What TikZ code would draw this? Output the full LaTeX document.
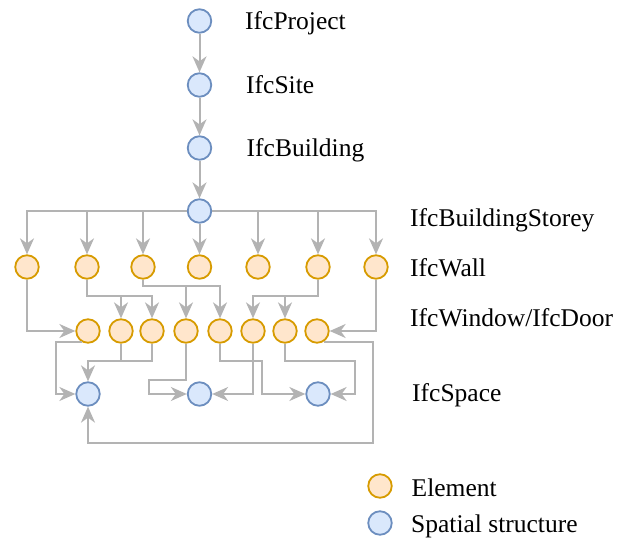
\documentclass[tikz,border=0pt]{standalone}
\usepackage{fontspec}
\setmainfont{Liberation Serif}
\usetikzlibrary{arrows.meta}
\definecolor{spfill}{HTML}{DAE8FC}
\definecolor{spline}{HTML}{6C8EBF}
\definecolor{elfill}{HTML}{FFE6CC}
\definecolor{elline}{HTML}{D79B00}
\definecolor{link}{HTML}{B3B3B3}
\tikzset{
  spatial/.style={circle, draw=spline, fill=spfill, line width=1.8pt, minimum size=23.5pt, inner sep=0pt},
  element/.style={circle, draw=elline, fill=elfill, line width=1.8pt, minimum size=23.5pt, inner sep=0pt},
  arr/.style={draw=link, line width=2pt, -{Stealth[length=16pt, width=14pt, inset=5pt]}},
  lnk/.style={draw=link, line width=2pt},
  lbl/.style={anchor=base west, inner sep=0pt, font=\fontsize{25.5}{30}\selectfont}
}
\begin{document}
\begin{tikzpicture}[x=1pt, y=-1pt]
\useasboundingbox (0,0) rectangle (630,540);

% spatial hierarchy
\node[spatial] (P)  at (199.5,21)  {};
\node[spatial] (S)  at (199.5,85)  {};
\node[spatial] (B)  at (199.5,148) {};
\node[spatial] (ST) at (199.5,211) {};

% walls
\foreach \i/\x in {1/27, 2/87, 3/143, 4/199.5, 5/258, 6/318, 7/376}
  \node[element] (w\i) at (\x,267) {};

% windows and doors
\foreach \i/\x in {1/88, 2/121, 3/152, 4/186, 5/220, 6/253, 7/285, 8/317}
  \node[element] (x\i) at (\x,331) {};

% spaces
\node[spatial] (sp1) at (88,394)    {};
\node[spatial] (sp2) at (199.5,394) {};
\node[spatial] (sp3) at (318,394)   {};

% legend
\node[element] (le) at (380,486) {};
\node[spatial] (ls) at (380,523) {};

% labels
\node[lbl] (tP)  at (245,30)    {IfcProject};
\node[lbl] (tS)  at (246,93.5)  {IfcSite};
\node[lbl] (tB)  at (246.5,157) {IfcBuilding};
\node[lbl] (tST) at (410,226.5) {IfcBuildingStorey};
\node[lbl] (tW)  at (410,276.5) {IfcWall};
\node[lbl] (tX)  at (410,326.5) {IfcWindow/IfcDoor};
\node[lbl] (tSp) at (412,402)   {IfcSpace};
\node[lbl] (tLe) at (411.5,496) {Element};
\node[lbl] (tLs) at (411,532.5) {Spatial structure};

% vertical chain
\draw[arr] (P) -- (S);
\draw[arr] (S) -- (B);
\draw[arr] (B) -- (ST);

% storey to walls
\foreach \i in {1,2,3,5,6,7}
  \draw[arr] (ST) -| (w\i);
\draw[arr] (ST) -- (w4);

% walls to windows and doors
\draw[arr] (w1) |- (x1);
\draw[arr] (w2) |- (152,296) -- (x3);
\draw[arr] (121,296) -- (x2);
\draw[arr] (w3) |- (220,286) -- (x5);
\draw[arr] (186,286) -- (x4);
\draw[arr] (w6) |- (253,296) -- (x6);
\draw[arr] (285,296) -- (x7);
\draw[arr] (w7) |- (x8);

% windows and doors to spaces
\draw[arr] (x1.-117) -| (56,394) -- (sp1);
\draw[arr] (x3) |- (88,361) -- (sp1);
\draw[lnk] (x2) -- (121,361);
\draw[arr] (x4) |- (149,380) |- (sp2);
\draw[arr] (x6) |- (sp2);
\draw[arr] (x5) |- (262,361) |- (sp3);
\draw[arr] (x7) |- (355,361) |- (sp3);
\draw[arr] (x8.-57) -| (373,443) -| (sp1);
\end{tikzpicture}
\end{document}
